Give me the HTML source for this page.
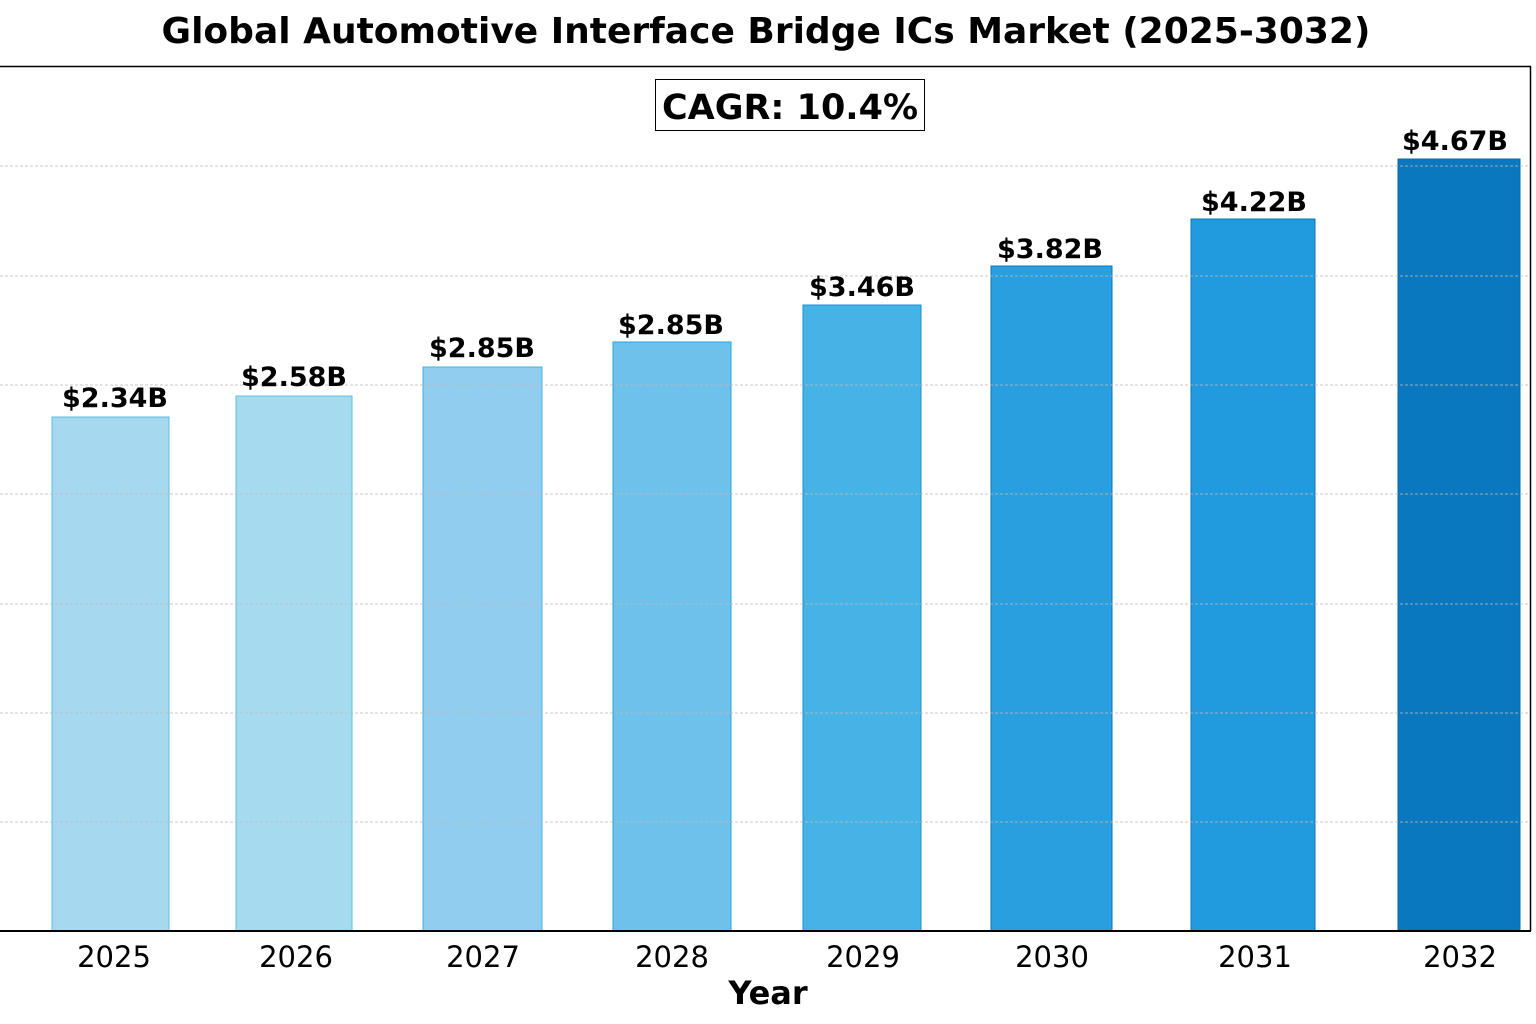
<!DOCTYPE html>
<html><head><meta charset="utf-8"><style>body{margin:0;background:#fff}svg{display:block}</style></head><body>
<svg width="1536" height="1024" xmlns="http://www.w3.org/2000/svg" font-family="DejaVu Sans, Liberation Sans, sans-serif">
<rect width="1536" height="1024" fill="#fff"/>
<text x="766" y="43" text-anchor="middle" font-size="36" font-weight="bold">Global Automotive Interface Bridge ICs Market (2025-3032)</text>
<g fill="#000">
<rect x="52" y="417" width="117" height="514" fill="#a6d9ef" stroke="#5bbde4"/>
<rect x="236" y="396" width="116" height="535" fill="#a6dbef" stroke="#5bbde4"/>
<rect x="423" y="367" width="119" height="564" fill="#90cdee" stroke="#45b3e6"/>
<rect x="613" y="342" width="118" height="589" fill="#6ec1ea" stroke="#2a9fdf"/>
<rect x="803" y="305" width="118" height="626" fill="#45b3e6" stroke="#1a8fd0"/>
<rect x="991" y="266" width="121" height="665" fill="#2a9fdf" stroke="#0a78be"/>
<rect x="1191" y="219" width="124" height="712" fill="#229ade" stroke="#0a78be"/>
<rect x="1398" y="159" width="122" height="772" fill="#0a78be" stroke="#0a6aa8"/>
</g>
<g stroke="#bbb" stroke-width="1" stroke-dasharray="3,2" opacity="0.8">
<line x1="0" x2="1530" y1="166" y2="166"/><line x1="0" x2="1530" y1="276" y2="276"/>
<line x1="0" x2="1530" y1="385" y2="385"/><line x1="0" x2="1530" y1="494" y2="494"/>
<line x1="0" x2="1530" y1="604" y2="604"/><line x1="0" x2="1530" y1="713" y2="713"/>
<line x1="0" x2="1530" y1="822" y2="822"/>
</g>
<line x1="0" x2="1531" y1="66.5" y2="66.5" stroke="#000" stroke-width="1.5"/>
<line x1="1530.5" x2="1530.5" y1="66" y2="931" stroke="#000" stroke-width="1.5"/>
<line x1="0" x2="1531" y1="931" y2="931" stroke="#000" stroke-width="2"/>
<rect x="655.5" y="79.5" width="269" height="51" fill="#fff" stroke="#000"/>
<text x="790" y="119" text-anchor="middle" font-size="35" font-weight="bold">CAGR: 10.4%</text>
<g font-size="27" font-weight="bold" text-anchor="middle">
<text x="115" y="407">$2.34B</text><text x="294" y="386">$2.58B</text>
<text x="482" y="357">$2.85B</text><text x="671" y="334">$2.85B</text>
<text x="862" y="296">$3.46B</text><text x="1050" y="258">$3.82B</text>
<text x="1254" y="211">$4.22B</text><text x="1455" y="150">$4.67B</text>
</g>
<g font-size="29" text-anchor="middle">
<text x="114" y="967">2025</text><text x="296" y="967">2026</text>
<text x="483" y="967">2027</text><text x="672" y="967">2028</text>
<text x="863" y="967">2029</text><text x="1052" y="967">2030</text>
<text x="1255" y="967">2031</text><text x="1460" y="967">2032</text>
</g>
<text x="768" y="1004" text-anchor="middle" font-size="32" font-weight="bold">Year</text>
</svg>
</body></html>
